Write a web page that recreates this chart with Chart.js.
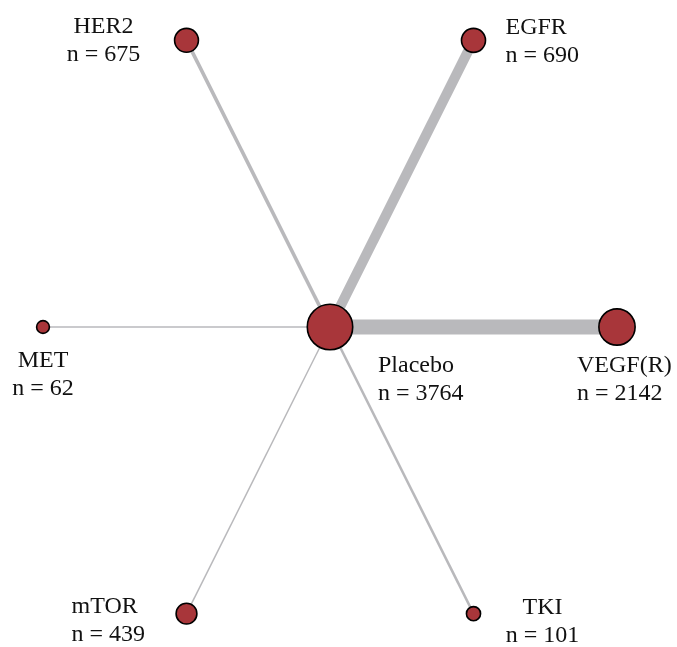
<!DOCTYPE html>
<html>
<head>
<meta charset="utf-8">
<script src="https://cdn.jsdelivr.net/npm/chart.js@4/dist/chart.umd.min.js"></script>
<style>
  html, body { margin: 0; padding: 0; background: #ffffff; }
  #wrap { width: 677px; height: 647px; }
</style>
</head>
<body>
<div id="wrap"><canvas id="c" width="677" height="647"></canvas></div>
<script>
// ---- data ----
const centerName = "Placebo";
const centerN = 3764;
const treatments = ["VEGF(R)", "EGFR", "HER2", "MET", "mTOR", "TKI"];
const treatmentN = [2142, 690, 675, 62, 439, 101];
const layoutAngleDeg = [0, 60, 120, 180, 240, 300];   // star layout around Placebo
const edgeWeight = [10, 6.7, 2.4, 1, 1, 1.7];           // relative comparison weight (edge thickness)

// ---- styles ----
const nodeFill = "#a8363a";
const edgeColor = "#b9b9bc";
const fontFamily = "'Liberation Serif', 'Times New Roman', serif";

function nodeRadius(n) { return 4.0 + 0.305 * Math.sqrt(n); }

const pts = treatments.map((t, i) => {
  const a = layoutAngleDeg[i] * Math.PI / 180;
  return { x: Math.cos(a), y: Math.sin(a), name: t, n: treatmentN[i] };
});

const edgeDatasets = pts.map((p, i) => ({
  type: "line",
  data: [{ x: 0, y: 0 }, { x: p.x, y: p.y }],
  borderColor: edgeColor,
  borderWidth: edgeWeight[i] * 1.5,
  borderCapStyle: "butt",
  pointRadius: 0,
  order: 2
}));

const nodeData = [{ x: 0, y: 0, name: centerName, n: centerN }].concat(pts);

const nodeDataset = {
  type: "scatter",
  data: nodeData,
  pointRadius: nodeData.map(d => nodeRadius(d.n)),
  pointHoverRadius: nodeData.map(d => nodeRadius(d.n)),
  pointBackgroundColor: nodeFill,
  pointBorderColor: "#000000",
  pointBorderWidth: 1.6,
  clip: false,
  order: 1
};

// label placement relative to each node (style only)
const labelPlace = {
  "Placebo": { align: "left", dx: 48, dy: 45 },
  "VEGF(R)": { align: "left", dx: -40, dy: 45 },
  "EGFR":    { align: "left", dx: 32, dy: -6 },
  "HER2":    { align: "center", dx: -83, dy: -7 },
  "MET":     { align: "center", dx: 0, dy: 40 },
  "mTOR":    { align: "left", dx: -115, dy: -1 },
  "TKI":     { align: "center", dx: 69, dy: 0 }
};

const labelPlugin = {
  id: "nodeLabels",
  afterDatasetsDraw(chart) {
    const ctx = chart.ctx;
    const xs = chart.scales.x, ys = chart.scales.y;
    ctx.save();
    ctx.fillStyle = "#111111";
    ctx.font = "24px " + fontFamily;
    ctx.textBaseline = "alphabetic";
    nodeData.forEach(d => {
      const pl = labelPlace[d.name];
      const px = xs.getPixelForValue(d.x) + pl.dx;
      const py = ys.getPixelForValue(d.y) + pl.dy;
      ctx.textAlign = pl.align;
      ctx.fillText(d.name, px, py);
      ctx.fillText("n = " + d.n, px, py + 28);
    });
    ctx.restore();
  }
};

new Chart(document.getElementById("c"), {
  data: { datasets: edgeDatasets.concat([nodeDataset]) },
  options: {
    responsive: false,
    animation: false,
    events: [],
    layout: { padding: 0, autoPadding: false },
    plugins: { legend: { display: false }, tooltip: { enabled: false } },
    scales: {
      x: { type: "linear", display: false, min: -330 / 287, max: 347 / 287 },
      y: { type: "linear", display: false, min: -320 / 331, max: 327 / 331 }
    }
  },
  plugins: [labelPlugin]
});
</script>
</body>
</html>
